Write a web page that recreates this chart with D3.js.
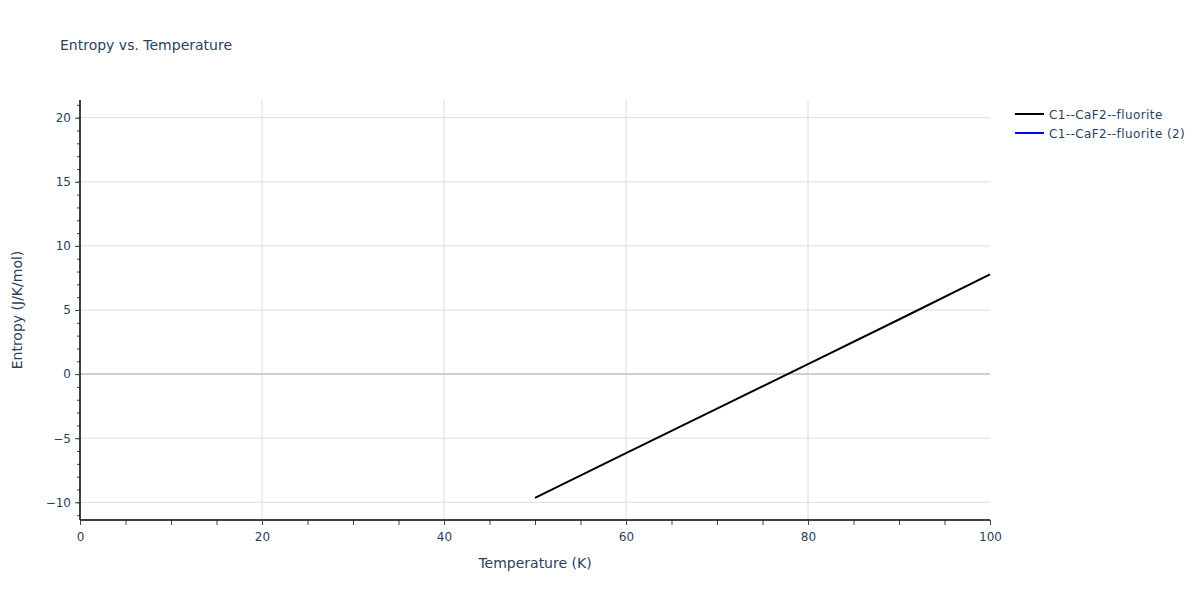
<!DOCTYPE html>
<html>
<head>
<meta charset="utf-8">
<script src="https://cdn.jsdelivr.net/npm/d3@7"></script>
<style>
  body { margin: 0; background: #fff; }
  svg { font-family: Verdana, "DejaVu Sans", sans-serif; }
  .tick text { fill: #2a3f5f; font-size: 12px; font-family: Verdana, "DejaVu Sans", sans-serif; }
</style>
</head>
<body>
<svg width="1200" height="600"></svg>
<script>
// series
const temperature = [50, 60, 70, 80, 90, 100];
const entropy = [-9.66, -6.16, -2.7, 0.78, 4.26, 7.78];
const entropy2 = []; // second trace shows only in the legend

const seriesNames = ["C1--CaF2--fluorite", "C1--CaF2--fluorite (2)"];
const seriesColors = ["#000000", "#0000ff"];

const xTicks = [0, 20, 40, 60, 80, 100];
const yTicks = [-10, -5, 0, 5, 10, 15, 20];

const margin = { top: 100, right: 210, bottom: 80, left: 80 };
const width = 1200 - margin.left - margin.right;
const height = 600 - margin.top - margin.bottom;

const svg = d3.select("svg");

const x = d3.scaleLinear().domain([0, 100]).range([0, width]);
const y = d3.scaleLinear().domain([-11.38, 21.38]).range([height, 0]);

const g = svg.append("g").attr("transform", `translate(${margin.left},${margin.top})`);

// grid
g.append("g")
  .selectAll("line.vgrid")
  .data(xTicks.filter(d => d > 0 && d < 100))
  .join("line")
  .attr("x1", d => x(d)).attr("x2", d => x(d))
  .attr("y1", 0).attr("y2", height)
  .attr("stroke", "#dcdcdc").attr("stroke-width", 1);

g.append("g")
  .selectAll("line.hgrid")
  .data(yTicks)
  .join("line")
  .attr("x1", 0).attr("x2", width)
  .attr("y1", d => y(d)).attr("y2", d => y(d))
  .attr("stroke", d => d === 0 ? "#cfcfcf" : "#dcdcdc")
  .attr("stroke-width", d => d === 0 ? 2 : 1);

// lines
const line = d3.line()
  .x(function (d) { return x(d[0]); })
  .y(function (d) { return y(d[1]); });

[entropy, entropy2].forEach(function (vals, i) {
  if (!vals.length) return;
  g.append("path")
    .datum(temperature.map((t, j) => [t, vals[j]]))
    .attr("fill", "none")
    .attr("stroke", seriesColors[i])
    .attr("stroke-width", 2)
    .attr("d", line);
});

// axes
const xMinor = d3.range(0, 101, 5);
const yMinor = d3.range(-11, 22, 1);

g.append("g")
  .attr("transform", `translate(0,${height})`)
  .call(d3.axisBottom(x).tickValues(xMinor).tickSize(5).tickFormat(""))
  .call(s => s.select(".domain").remove())
  .call(s => s.selectAll("line").attr("stroke", "#444"));

g.append("g")
  .attr("transform", `translate(0,${height})`)
  .call(d3.axisBottom(x).tickValues(xTicks).tickSize(5).tickPadding(7).tickFormat(d3.format("d")))
  .call(s => s.select(".domain").attr("stroke", "#000").attr("stroke-width", 1.5)
    .attr("d", `M0.5,0H${width}`))
  .call(s => s.selectAll(".tick line").attr("stroke", "#444"));

g.append("g")
  .call(d3.axisLeft(y).tickValues(yMinor).tickSize(3).tickFormat(""))
  .call(s => s.select(".domain").remove())
  .call(s => s.selectAll("line").attr("stroke", "#444"));

g.append("g")
  .call(d3.axisLeft(y).tickValues(yTicks).tickSize(5).tickPadding(4)
    .tickFormat(d => d < 0 ? "\u2212" + Math.abs(d) : d))
  .call(s => s.select(".domain").attr("stroke", "#000").attr("stroke-width", 1.5)
    .attr("d", `M0,0V${height}`))
  .call(s => s.selectAll(".tick line").attr("stroke", "#444"));

// titles
svg.append("text")
  .attr("x", 60).attr("y", 50)
  .attr("fill", "#2a3f5f").attr("font-size", 14)
  .text("Entropy vs. Temperature");

svg.append("text")
  .attr("x", margin.left + width / 2).attr("y", 568)
  .attr("text-anchor", "middle")
  .attr("fill", "#2a3f5f").attr("font-size", 14)
  .text("Temperature (K)");

svg.append("text")
  .attr("transform", `translate(22,${margin.top + height / 2}) rotate(-90)`)
  .attr("text-anchor", "middle")
  .attr("fill", "#2a3f5f").attr("font-size", 14)
  .text("Entropy (J/K/mol)");

// legend
const legend = svg.append("g").attr("transform", "translate(1015,114)");
const items = legend.selectAll("g")
  .data(seriesNames)
  .join("g")
  .attr("transform", (d, i) => `translate(0,${i * 19})`);
items.append("line")
  .attr("x1", 0).attr("x2", 29)
  .attr("stroke", (d, i) => seriesColors[i])
  .attr("stroke-width", 2);
items.append("text")
  .attr("x", 34).attr("y", 4.5)
  .attr("fill", "#2a3f5f").attr("font-size", 12)
  .attr("letter-spacing", 0.4)
  .text(d => d);
</script>
</body>
</html>
